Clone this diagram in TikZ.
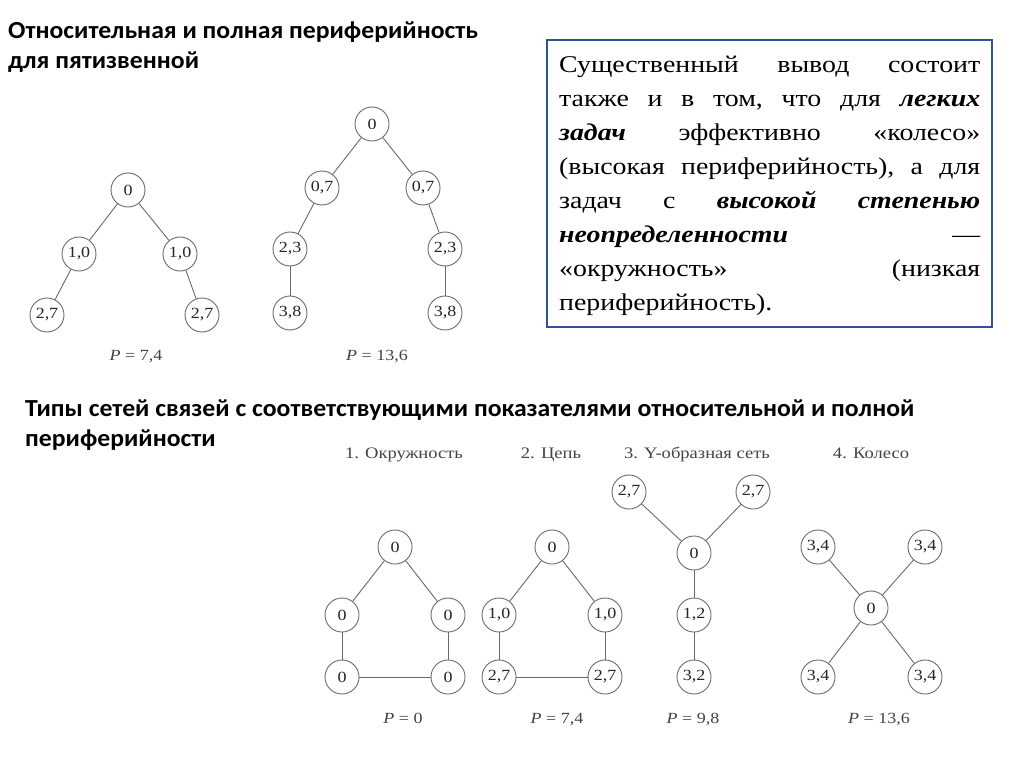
\documentclass[tikz,border=0pt]{standalone}
\usepackage{fontspec}
\setmainfont{Liberation Serif}
\newfontfamily\headfont[FakeStretch=1.05]{Carlito}
\newfontfamily\widefont[FakeStretch=1.16]{Liberation Serif}
\usepackage{xcolor}
\definecolor{boxblue}{HTML}{2F5496}
\definecolor{netgray}{HTML}{6A6A6A}
\definecolor{labgray}{HTML}{444444}

\newcommand{\jline}[1]{\makebox[421pt][s]{#1}}
\newcommand{\bi}[1]{\textbf{\textit{#1}}}

\tikzset{
  vert/.style={circle, draw=netgray, line width=0.9pt, minimum size=34pt, inner sep=0pt,
    font=\widefont\fontsize{15.5}{15.5}\selectfont, text=black!85, fill=white},
  link/.style={draw=netgray, line width=0.9pt},
  heading/.style={anchor=base west, inner sep=0pt, font=\headfont\bfseries\fontsize{24.5}{28}\selectfont},
  netlabel/.style={anchor=base, inner sep=0pt, text=labgray, font=\widefont\fontsize{16}{18}\selectfont},
  pval/.style={anchor=base, inner sep=0pt, text=labgray, font=\widefont\fontsize{15.5}{18}\selectfont}
}

\begin{document}
\begin{tikzpicture}[x=1pt,y=-1pt]
\useasboundingbox (0,0) rectangle (1024,767);
\fill[white] (0,0) rectangle (1024,767);

% headings
\node[heading] (h1a) at (8,39) {Относительная и полная периферийность};
\node[heading] (h1b) at (8,69) {для пятизвенной};
\node[heading] (h2a) at (25,416) {Типы сетей связей с соответствующими показателями относительной и полной};
\node[heading] (h2b) at (25,446) {периферийности};

% text box
\draw[boxblue, line width=2.6pt] (547,40) rectangle (992,327);
\node[anchor=north west, inner sep=0pt, text width=421pt,
  font=\widefont\fontsize{24}{34}\selectfont] (note) at (559,56) {%
\jline{Существенный\hfill вывод\hfill состоит}\\
\jline{также\hfill и\hfill в\hfill том,\hfill что\hfill для\hfill \bi{легких}}\\
\jline{\bi{задач}\hfill эффективно\hfill «колесо»}\\
\jline{(высокая\hfill периферийность),\hfill а\hfill для}\\
\jline{задач\hfill с\hfill \bi{высокой}\hfill \bi{степенью}}\\
\jline{\bi{неопределенности}\hfill —}\\
\jline{«окружность»\hfill (низкая}\\
периферийность).};

% five-link trees
\node[vert] (a0) at (128,190) {0};
\node[vert] (a1) at (79,254) {1,0};
\node[vert] (a2) at (180,254) {1,0};
\node[vert] (a3) at (47,315) {2,7};
\node[vert] (a4) at (202,315) {2,7};
\draw[link] (a0) -- (a1);
\draw[link] (a0) -- (a2);
\draw[link] (a1) -- (a3);
\draw[link] (a2) -- (a4);
\node[pval] (pa) at (136,360) {\textit{P} = 7,4};

\node[vert] (b0) at (372,124) {0};
\node[vert] (b1) at (322,188) {0,7};
\node[vert] (b2) at (423,188) {0,7};
\node[vert] (b3) at (290,249) {2,3};
\node[vert] (b4) at (445,249) {2,3};
\node[vert] (b5) at (290,313) {3,8};
\node[vert] (b6) at (445,313) {3,8};
\draw[link] (b0) -- (b1);
\draw[link] (b0) -- (b2);
\draw[link] (b1) -- (b3);
\draw[link] (b2) -- (b4);
\draw[link] (b3) -- (b5);
\draw[link] (b4) -- (b6);
\node[pval] (pb) at (377,360) {\textit{P} = 13,6};

% 1. circle
\node[netlabel] (l1) at (404,458) {1. Окружность};
\node[vert] (c0) at (395,547) {0};
\node[vert] (c1) at (342,615) {0};
\node[vert] (c2) at (448,615) {0};
\node[vert] (c3) at (342,677) {0};
\node[vert] (c4) at (448,677) {0};
\draw[link] (c0) -- (c1);
\draw[link] (c0) -- (c2);
\draw[link] (c1) -- (c3);
\draw[link] (c2) -- (c4);
\draw[link] (c3) -- (c4);
\node[pval] (pc) at (403,723) {\textit{P} = 0};

% 2. chain
\node[netlabel] (l2) at (551,458) {2. Цепь};
\node[vert] (d0) at (552,547) {0};
\node[vert] (d1) at (499,615) {1,0};
\node[vert] (d2) at (605,615) {1,0};
\node[vert] (d3) at (499,677) {2,7};
\node[vert] (d4) at (605,677) {2,7};
\draw[link] (d0) -- (d1);
\draw[link] (d0) -- (d2);
\draw[link] (d1) -- (d3);
\draw[link] (d2) -- (d4);
\draw[link] (d3) -- (d4);
\node[pval] (pd) at (557,723) {\textit{P} = 7,4};

% 3. Y-shaped
\node[netlabel] (l3) at (697,458) {3. Y-образная сеть};
\node[vert] (e1) at (629,492) {2,7};
\node[vert] (e2) at (753,492) {2,7};
\node[vert] (e0) at (694,553) {0};
\node[vert] (e3) at (694,615) {1,2};
\node[vert] (e4) at (694,677) {3,2};
\draw[link] (e0) -- (e1);
\draw[link] (e0) -- (e2);
\draw[link] (e0) -- (e3);
\draw[link] (e3) -- (e4);
\node[pval] (pe) at (693,723) {\textit{P} = 9,8};

% 4. wheel
\node[netlabel] (l4) at (871,458) {4. Колесо};
\node[vert] (f0) at (871,608) {0};
\node[vert] (f1) at (818,547) {3,4};
\node[vert] (f2) at (925,547) {3,4};
\node[vert] (f3) at (818,677) {3,4};
\node[vert] (f4) at (925,677) {3,4};
\draw[link] (f0) -- (f1);
\draw[link] (f0) -- (f2);
\draw[link] (f0) -- (f3);
\draw[link] (f0) -- (f4);
\node[pval] (pf) at (879,723) {\textit{P} = 13,6};
\end{tikzpicture}
\end{document}
